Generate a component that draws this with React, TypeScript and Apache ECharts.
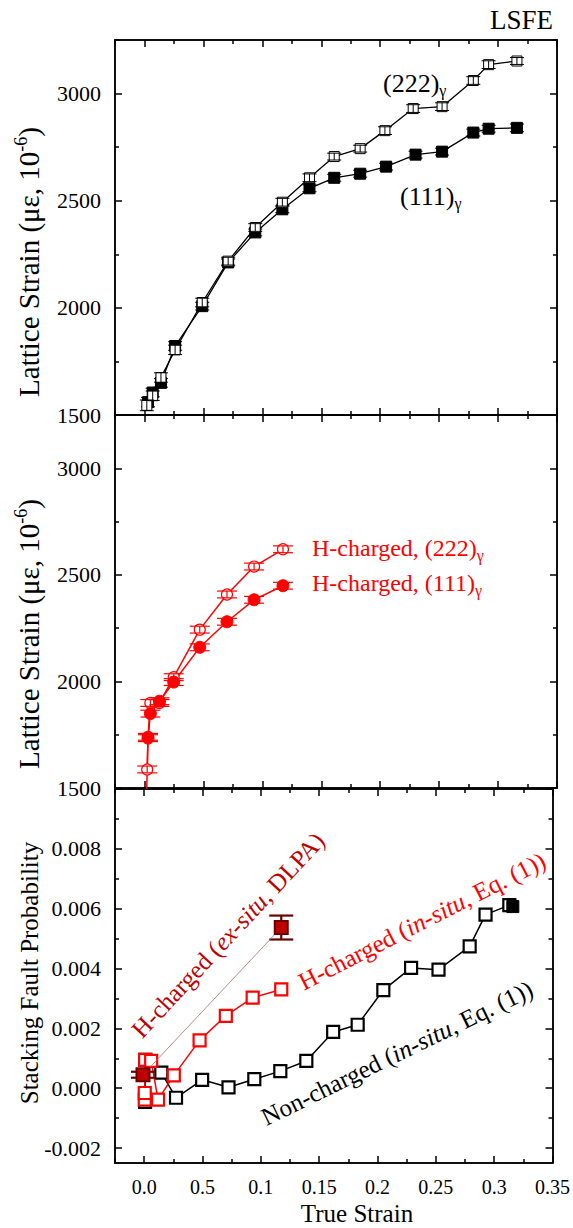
import React, { useEffect, useRef } from 'react';
import * as echarts from 'echarts';

const FONT = 'Liberation Serif';

// ---- axes ----
const X_MIN = -0.025;
const X_MAX = 0.35;
const xMajor = [0, 0.05, 0.1, 0.15, 0.2, 0.25, 0.3, 0.35];
const xMinor = [-0.025, 0.025, 0.075, 0.125, 0.175, 0.225, 0.275, 0.325];
const xTickLabels = ['0.0', '0.5', '0.1', '0.15', '0.2', '0.25', '0.3', '0.35'];

const LAT_MIN = 1500;
const LAT_MAX = 3250;
const latMajor = [1500, 2000, 2500, 3000];
const latMinor = [1750, 2250, 2750, 3250];

const SFP_MIN = -0.0025;
const SFP_MAX = 0.01;
const sfpMajor = [-0.002, 0, 0.002, 0.004, 0.006, 0.008, 0.01];
const sfpMinor = [-0.001, 0.001, 0.003, 0.005, 0.007, 0.009];
const sfpLabelValues = [-0.002, 0, 0.002, 0.004, 0.006, 0.008];

// ---- top panel: non-charged lattice strain ----
const strain222 = [0.002, 0.007, 0.014, 0.026, 0.049, 0.071, 0.094, 0.117, 0.140, 0.161, 0.183, 0.204, 0.228, 0.2525, 0.279, 0.292, 0.316];
const lattice222 = [1545, 1590, 1675, 1804, 2025, 2218, 2375, 2493, 2607, 2706, 2743, 2827, 2930, 2939, 3061, 3135, 3152];
const err222 = [25, 22, 22, 22, 20, 18, 18, 18, 18, 16, 16, 18, 18, 18, 18, 18, 16];

const strain111 = [0.003, 0.007, 0.014, 0.026, 0.049, 0.071, 0.094, 0.117, 0.140, 0.161, 0.183, 0.205, 0.230, 0.2525, 0.279, 0.292, 0.316];
const lattice111 = [1560, 1605, 1650, 1822, 2008, 2212, 2352, 2460, 2558, 2607, 2626, 2659, 2715, 2729, 2818, 2836, 2840];
const err111 = [22, 20, 20, 20, 18, 16, 16, 16, 16, 16, 16, 16, 16, 16, 16, 16, 18];

// ---- middle panel: H-charged lattice strain ----
const hStrain222 = [0.0023, 0.003, 0.005, 0.0127, 0.0248, 0.0469, 0.070, 0.093, 0.1175];
const hLattice222 = [1587, 1740, 1899, 1899, 2020, 2243, 2408, 2539, 2620];
const hErr222 = [16, 16, 16, 16, 16, 16, 16, 16, 16];

const hStrain111 = [0.0015, 0.003, 0.005, 0.0127, 0.0248, 0.0469, 0.070, 0.093, 0.1175];
const hLattice111 = [1400, 1734, 1849, 1907, 1997, 2160, 2280, 2383, 2449];
const hErr111 = [16, 16, 16, 16, 16, 16, 16, 16, 16];

// ---- bottom panel: stacking fault probability ----
const ncStrain = [0.0008, 0.001, 0.0147, 0.0273, 0.0497, 0.0723, 0.0944, 0.1167, 0.139, 0.162, 0.183, 0.205, 0.2288, 0.2523, 0.279, 0.2926, 0.313];
const ncSfp = [-0.00046, 0.00095, 0.00052, -0.00032, 0.00028, 0.00003, 0.0003, 0.00057, 0.00091, 0.00188, 0.00212, 0.00328, 0.00402, 0.00396, 0.00474, 0.0058, 0.00612];

const hInStrain = [0.0005, 0.0005, 0.0008, 0.006, 0.0119, 0.0254, 0.0475, 0.070, 0.093, 0.1175];
const hInSfp = [-0.00038, -0.00016, 0.00095, 0.00091, -0.00038, 0.00043, 0.0016, 0.00242, 0.00303, 0.0033];

const exStrain = [-0.001, 0.1175];
const exSfp = [0.00045, 0.00537];
const exErr = [0.0001, 0.0004];

const ncExStrain = [0.316];
const ncExSfp = [0.00607];

const zip = (a: number[], b: number[]) => a.map((v, i) => [v, b[i]]);
const zip3 = (a: number[], b: number[], c: number[]) => a.map((v, i) => [v, b[i], c[i]]);

const axisLine = { color: '#000', width: 1.5 };

function fmtX(v: number) {
  const i = xMajor.findIndex((t) => Math.abs(t - v) < 1e-9);
  return i >= 0 ? xTickLabels[i] : '';
}

function xAxesFor(gi: number, labels: boolean) {
  const base = (pos: string) => ({
    type: 'value',
    gridIndex: gi,
    position: pos,
    min: X_MIN,
    max: X_MAX,
    axisLine: { show: true, onZero: false, lineStyle: axisLine },
    splitLine: { show: false },
    axisLabel: { show: false },
  });
  return [
    {
      ...base('bottom'),
      axisTick: { show: true, inside: true, length: 7, customValues: xMajor, lineStyle: axisLine },
      axisLabel: labels
        ? { show: true, customValues: xMajor, formatter: fmtX, fontSize: 20, fontFamily: FONT, color: '#000', margin: 14 }
        : { show: false },
    },
    { ...base('bottom'), axisTick: { show: true, inside: true, length: 4, customValues: xMinor, lineStyle: axisLine } },
    { ...base('top'), axisTick: { show: true, inside: true, length: 7, customValues: xMajor, lineStyle: axisLine } },
    { ...base('top'), axisTick: { show: true, inside: true, length: 4, customValues: xMinor, lineStyle: axisLine } },
  ];
}

function yAxesFor(gi: number, min: number, max: number, major: number[], minor: number[], labelVals: number[], fmt: (v: number) => string) {
  const base = (pos: string) => ({
    type: 'value',
    gridIndex: gi,
    position: pos,
    min,
    max,
    axisLine: { show: true, onZero: false, lineStyle: axisLine },
    splitLine: { show: false },
    axisLabel: { show: false },
  });
  return [
    {
      ...base('left'),
      axisTick: { show: true, inside: true, length: 7, customValues: major, lineStyle: axisLine },
      axisLabel: { show: true, customValues: labelVals, formatter: fmt, fontSize: 22, fontFamily: FONT, color: '#000', margin: 14 },
    },
    { ...base('left'), axisTick: { show: true, inside: true, length: 4, customValues: minor, lineStyle: axisLine } },
    { ...base('right'), axisTick: { show: true, inside: true, length: 7, customValues: major, lineStyle: axisLine } },
    { ...base('right'), axisTick: { show: true, inside: true, length: 4, customValues: minor, lineStyle: axisLine } },
  ];
}

function errRender(color: string, capW: number, lw: number) {
  return (params: any, api: any) => {
    const x = api.value(0);
    const y = api.value(1);
    const e = api.value(2);
    const top = api.coord([x, y + e]);
    const bot = api.coord([x, y - e]);
    const h = capW / 2;
    const style = { stroke: color, lineWidth: lw, fill: 'none' };
    return {
      type: 'group',
      children: [
        { type: 'line', shape: { x1: top[0], y1: top[1], x2: bot[0], y2: bot[1] }, style },
        { type: 'line', shape: { x1: top[0] - h, y1: top[1], x2: top[0] + h, y2: top[1] }, style },
        { type: 'line', shape: { x1: bot[0] - h, y1: bot[1], x2: bot[0] + h, y2: bot[1] }, style },
      ],
    };
  };
}

function errSeries(gi: number, data: number[][], color: string, capW: number, lw: number, z: number) {
  return {
    type: 'custom',
    xAxisIndex: gi * 4,
    yAxisIndex: gi * 4,
    data,
    encode: { x: 0, y: 1 },
    renderItem: errRender(color, capW, lw),
    clip: true,
    z,
    silent: true,
  };
}

export default function App() {
  const ref = useRef<HTMLDivElement>(null);
  useEffect(() => {
    if (!ref.current) return;
    const chart = echarts.init(ref.current, undefined, { renderer: 'svg' });
    const latFmt = (v: number) => String(Math.round(v));
    const sfpFmt = (v: number) => (Math.abs(v) < 1e-12 ? '0.000' : v.toFixed(3));

    const base = (size: number, color: string, extra: any = {}) => ({ fontSize: size, fontFamily: FONT, fill: color, ...extra });
    const deg = Math.PI / 180;

    const latTitle = (y: number) => ({
      type: 'text', x: 29, y, rotation: 90 * deg,
      style: {
        text: '{a|Lattice Strain (με, 10}{s|-6}{a|)}', align: 'center', verticalAlign: 'middle',
        rich: { a: base(29, '#000', { lineHeight: 34 }), s: base(18, '#000', { verticalAlign: 'top', lineHeight: 21 }) },
      },
    });

    const option: any = {
      animation: false,
      textStyle: { fontFamily: FONT },
      grid: [
        { left: 115, top: 40, width: 442, height: 375 },
        { left: 115, top: 415, width: 442, height: 373 },
        { left: 115, top: 789, width: 442, height: 374 },
      ],
      xAxis: [...xAxesFor(0, false), ...xAxesFor(1, false), ...xAxesFor(2, true)],
      yAxis: [
        ...yAxesFor(0, LAT_MIN, LAT_MAX, latMajor, latMinor, latMajor, latFmt),
        ...yAxesFor(1, LAT_MIN, LAT_MAX, latMajor, latMinor, latMajor, latFmt),
        ...yAxesFor(2, SFP_MIN, SFP_MAX, sfpMajor, sfpMinor, sfpLabelValues, sfpFmt),
      ],
      series: [
        // top panel
        {
          type: 'line', xAxisIndex: 0, yAxisIndex: 0, data: zip(strain111, lattice111),
          symbol: 'rect', symbolSize: 11, lineStyle: { color: '#000', width: 1.3 },
          itemStyle: { color: '#000', borderColor: '#000', borderWidth: 1 }, z: 2, silent: true,
        },
        errSeries(0, zip3(strain111, lattice111, err111), '#000', 14, 1, 3),
        {
          type: 'line', xAxisIndex: 0, yAxisIndex: 0, data: zip(strain222, lattice222),
          symbol: 'rect', symbolSize: 10, lineStyle: { color: '#000', width: 1.3 },
          itemStyle: { color: '#fff', borderColor: '#000', borderWidth: 1 }, z: 4, silent: true,
        },
        errSeries(0, zip3(strain222, lattice222, err222), '#000', 14, 1, 5),
        // middle panel
        {
          type: 'line', xAxisIndex: 4, yAxisIndex: 4, data: zip(hStrain222, hLattice222),
          symbol: 'circle', symbolSize: 11, lineStyle: { color: '#ff0000', width: 1.5 },
          itemStyle: { color: '#fff', borderColor: '#ff0000', borderWidth: 1.2 }, z: 2, silent: true,
        },
        {
          type: 'line', xAxisIndex: 4, yAxisIndex: 4, data: zip(hStrain111, hLattice111),
          symbol: 'circle', symbolSize: 12, lineStyle: { color: '#ff0000', width: 1.5 },
          itemStyle: { color: '#ff0000', borderColor: '#ff0000', borderWidth: 1 }, z: 2, silent: true,
        },
        errSeries(1, zip3(hStrain222, hLattice222, hErr222), '#ff0000', 20, 1.2, 3),
        errSeries(1, zip3(hStrain111, hLattice111, hErr111), '#ff0000', 20, 1.2, 3),
        // bottom panel
        {
          type: 'line', xAxisIndex: 8, yAxisIndex: 8, data: zip(ncStrain, ncSfp),
          symbol: 'rect', symbolSize: 12, lineStyle: { color: '#000', width: 1.5 },
          itemStyle: { color: '#fff', borderColor: '#000', borderWidth: 2.2 }, z: 2, silent: true,
        },
        {
          type: 'line', xAxisIndex: 8, yAxisIndex: 8, data: zip(ncExStrain, ncExSfp),
          symbol: 'rect', symbolSize: 12, lineStyle: { width: 0 },
          itemStyle: { color: '#000', borderColor: '#000', borderWidth: 1 }, z: 2, silent: true,
        },
        {
          type: 'line', xAxisIndex: 8, yAxisIndex: 8, data: zip(hInStrain, hInSfp),
          symbol: 'rect', symbolSize: 12, lineStyle: { color: '#ff0000', width: 1.5 },
          itemStyle: { color: '#fff', borderColor: '#ff0000', borderWidth: 2.2 }, z: 3, silent: true,
        },
        errSeries(2, zip3(exStrain, exSfp, exErr), '#6b0000', 24, 2.2, 4),
        {
          type: 'line', xAxisIndex: 8, yAxisIndex: 8, data: zip(exStrain, exSfp),
          symbol: 'rect', symbolSize: 13, lineStyle: { color: '#a07070', width: 0.8 },
          itemStyle: { color: '#c00000', borderColor: '#6b0000', borderWidth: 2 }, z: 5, silent: true,
        },
      ],
      graphic: [
        { type: 'text', x: 553, y: 20, style: base(27, '#000', { text: 'LSFE', align: 'right', verticalAlign: 'middle' }) },
        {
          type: 'text', x: 383, y: 83,
          style: {
            text: '{a|(222)}{s|γ}', align: 'left', verticalAlign: 'middle',
            rich: { a: base(26, '#000', { lineHeight: 30 }), s: base(16, '#000', { verticalAlign: 'bottom', lineHeight: 14 }) },
          },
        },
        {
          type: 'text', x: 400, y: 196,
          style: {
            text: '{a|(111)}{s|γ}', align: 'left', verticalAlign: 'middle',
            rich: { a: base(26, '#000', { lineHeight: 30 }), s: base(16, '#000', { verticalAlign: 'bottom', lineHeight: 14 }) },
          },
        },
        {
          type: 'text', x: 312, y: 548,
          style: {
            text: '{a|H-charged, (222)}{s|γ}', align: 'left', verticalAlign: 'middle',
            rich: { a: base(24, '#ff0000', { lineHeight: 30 }), s: base(16, '#ff0000', { verticalAlign: 'bottom', lineHeight: 14 }) },
          },
        },
        {
          type: 'text', x: 312, y: 583,
          style: {
            text: '{a|H-charged, (111)}{s|γ}', align: 'left', verticalAlign: 'middle',
            rich: { a: base(24, '#ff0000', { lineHeight: 30 }), s: base(16, '#ff0000', { verticalAlign: 'bottom', lineHeight: 14 }) },
          },
        },
        {
          type: 'text', x: 228, y: 935, rotation: 47 * deg,
          style: {
            text: '{a|H-charged (}{i|ex-situ}{a|, DLPA)}', align: 'center', verticalAlign: 'middle',
            rich: { a: base(25, '#c00000'), i: base(25, '#c00000', { fontStyle: 'italic' }) },
          },
        },
        {
          type: 'text', x: 422, y: 921, rotation: 27 * deg,
          style: {
            text: '{a|H-charged (}{i|in-situ}{a|, Eq. (1))}', align: 'center', verticalAlign: 'middle',
            rich: { a: base(25, '#ff0000'), i: base(25, '#ff0000', { fontStyle: 'italic' }) },
          },
        },
        {
          type: 'text', x: 397, y: 1053, rotation: 26 * deg,
          style: {
            text: '{a|Non-charged (}{i|in-situ}{a|, Eq. (1))}', align: 'center', verticalAlign: 'middle',
            rich: { a: base(25, '#000'), i: base(25, '#000', { fontStyle: 'italic' }) },
          },
        },
        latTitle(262),
        latTitle(634),
        {
          type: 'text', x: 29, y: 973, rotation: 90 * deg,
          style: base(25, '#000', { text: 'Stacking Fault Probability', align: 'center', verticalAlign: 'middle' }),
        },
        {
          type: 'text', x: 357, y: 1213,
          style: base(25, '#000', { text: 'True Strain', align: 'center', verticalAlign: 'middle' }),
        },
      ],
    };
    chart.setOption(option);
    return () => chart.dispose();
  }, []);
  return <div ref={ref} style={{ position: 'absolute', left: 0, top: 0, width: 573, height: 1228, background: '#fff' }} />;
}
